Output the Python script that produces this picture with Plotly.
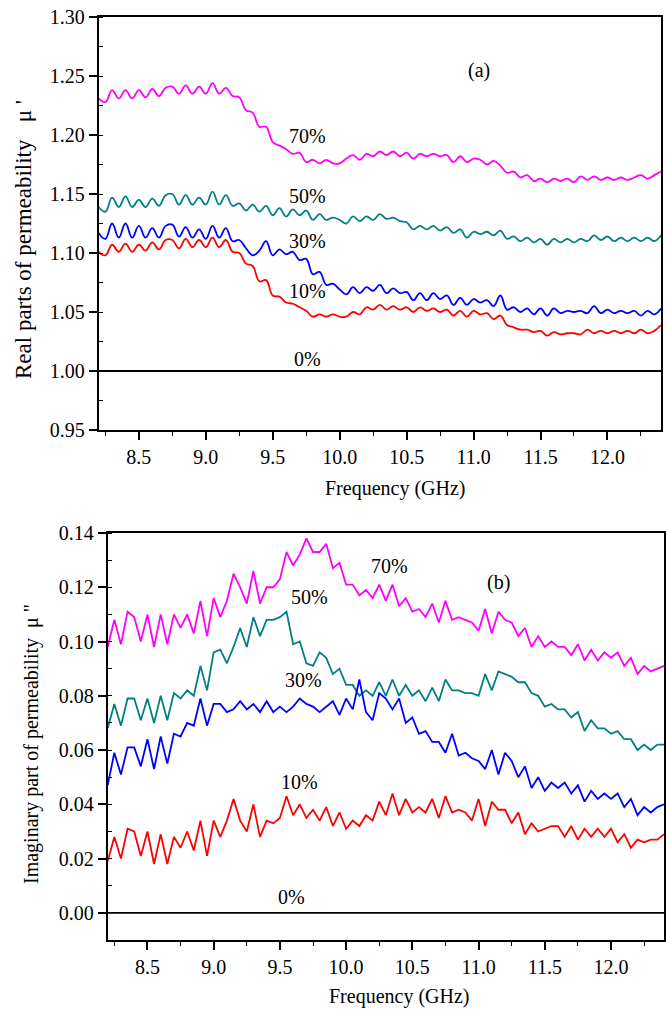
import plotly.graph_objects as go

# Frequency grid (GHz)
FREQ = [8.20, 8.25, 8.30, 8.35, 8.40, 8.45, 8.50, 8.55, 8.60, 8.65,
        8.70, 8.75, 8.80, 8.85, 8.90, 8.95, 9.00, 9.05, 9.10, 9.15,
        9.20, 9.25, 9.30, 9.35, 9.40, 9.45, 9.50, 9.55, 9.60, 9.65,
        9.70, 9.75, 9.80, 9.85, 9.90, 9.95, 10.00, 10.05, 10.10, 10.15,
        10.20, 10.25, 10.30, 10.35, 10.40, 10.45, 10.50, 10.55, 10.60, 10.65,
        10.70, 10.75, 10.80, 10.85, 10.90, 10.95, 11.00, 11.05, 11.10, 11.15,
        11.20, 11.25, 11.30, 11.35, 11.40, 11.45, 11.50, 11.55, 11.60, 11.65,
        11.70, 11.75, 11.80, 11.85, 11.90, 11.95, 12.00, 12.05, 12.10, 12.15,
        12.20, 12.25, 12.30, 12.35, 12.40]

# (a) real part mu'
REAL_70 = [1.231, 1.228, 1.238, 1.231, 1.238, 1.231, 1.238, 1.232, 1.239, 1.233,
           1.240, 1.241, 1.235, 1.242, 1.235, 1.241, 1.235, 1.244, 1.235, 1.240,
           1.233, 1.232, 1.221, 1.219, 1.207, 1.207, 1.194, 1.191, 1.188, 1.184,
           1.185, 1.177, 1.179, 1.176, 1.179, 1.176, 1.176, 1.180, 1.183, 1.179,
           1.184, 1.182, 1.186, 1.183, 1.186, 1.182, 1.185, 1.180, 1.184, 1.182,
           1.184, 1.182, 1.183, 1.177, 1.182, 1.177, 1.180, 1.179, 1.175, 1.178,
           1.174, 1.168, 1.169, 1.164, 1.166, 1.161, 1.163, 1.160, 1.163, 1.161,
           1.163, 1.160, 1.165, 1.162, 1.165, 1.162, 1.164, 1.162, 1.164, 1.162,
           1.164, 1.166, 1.163, 1.166, 1.169]
REAL_50 = [1.139, 1.135, 1.147, 1.139, 1.148, 1.139, 1.145, 1.139, 1.146, 1.140,
           1.149, 1.150, 1.141, 1.149, 1.141, 1.147, 1.141, 1.152, 1.141, 1.149,
           1.140, 1.142, 1.136, 1.141, 1.135, 1.140, 1.132, 1.138, 1.131, 1.137,
           1.132, 1.136, 1.128, 1.133, 1.128, 1.130, 1.128, 1.125, 1.131, 1.127,
           1.131, 1.128, 1.133, 1.129, 1.130, 1.127, 1.126, 1.120, 1.123, 1.120,
           1.123, 1.119, 1.122, 1.117, 1.120, 1.113, 1.118, 1.116, 1.118, 1.115,
           1.119, 1.112, 1.114, 1.110, 1.113, 1.109, 1.112, 1.107, 1.112, 1.109,
           1.112, 1.109, 1.112, 1.110, 1.115, 1.111, 1.114, 1.110, 1.113, 1.110,
           1.113, 1.110, 1.113, 1.110, 1.115]
REAL_30 = [1.117, 1.112, 1.125, 1.113, 1.125, 1.113, 1.123, 1.113, 1.121, 1.113,
           1.123, 1.124, 1.114, 1.122, 1.113, 1.120, 1.112, 1.123, 1.113, 1.121,
           1.110, 1.111, 1.104, 1.098, 1.102, 1.110, 1.098, 1.103, 1.099, 1.101,
           1.094, 1.095, 1.082, 1.084, 1.073, 1.074, 1.069, 1.065, 1.071, 1.066,
           1.071, 1.068, 1.073, 1.066, 1.070, 1.066, 1.067, 1.060, 1.066, 1.060,
           1.066, 1.061, 1.064, 1.056, 1.062, 1.056, 1.061, 1.058, 1.060, 1.055,
           1.064, 1.052, 1.054, 1.050, 1.053, 1.048, 1.053, 1.047, 1.053, 1.049,
           1.051, 1.050, 1.051, 1.049, 1.055, 1.049, 1.052, 1.049, 1.051, 1.049,
           1.051, 1.047, 1.051, 1.048, 1.053]
REAL_10 = [1.101, 1.098, 1.107, 1.101, 1.108, 1.101, 1.107, 1.102, 1.109, 1.103,
           1.111, 1.111, 1.104, 1.112, 1.105, 1.111, 1.105, 1.113, 1.105, 1.111,
           1.101, 1.100, 1.091, 1.089, 1.076, 1.077, 1.064, 1.063, 1.058, 1.057,
           1.054, 1.051, 1.046, 1.048, 1.046, 1.048, 1.046, 1.046, 1.050, 1.048,
           1.054, 1.052, 1.056, 1.052, 1.055, 1.052, 1.054, 1.050, 1.054, 1.051,
           1.053, 1.050, 1.052, 1.047, 1.051, 1.046, 1.051, 1.048, 1.049, 1.044,
           1.047, 1.039, 1.037, 1.035, 1.035, 1.033, 1.034, 1.030, 1.033, 1.031,
           1.032, 1.032, 1.031, 1.035, 1.032, 1.034, 1.032, 1.034, 1.032, 1.034,
           1.032, 1.035, 1.032, 1.034, 1.039]
REAL_0 = 1.00

# (b) imaginary part mu''
IMAG_70 = [0.098, 0.108, 0.099, 0.111, 0.109, 0.100, 0.110, 0.098, 0.110, 0.099,
           0.110, 0.105, 0.110, 0.103, 0.115, 0.102, 0.116, 0.109, 0.115, 0.125,
           0.120, 0.114, 0.126, 0.114, 0.120, 0.120, 0.123, 0.133, 0.128, 0.132,
           0.138, 0.133, 0.133, 0.136, 0.127, 0.129, 0.121, 0.121, 0.117, 0.119,
           0.116, 0.121, 0.115, 0.121, 0.113, 0.116, 0.111, 0.112, 0.109, 0.114,
           0.107, 0.115, 0.108, 0.109, 0.108, 0.107, 0.104, 0.112, 0.103, 0.111,
           0.108, 0.107, 0.102, 0.105, 0.098, 0.102, 0.098, 0.100, 0.098, 0.098,
           0.095, 0.099, 0.093, 0.097, 0.093, 0.096, 0.094, 0.096, 0.091, 0.094,
           0.088, 0.091, 0.089, 0.090, 0.091]
IMAG_50 = [0.068, 0.077, 0.069, 0.079, 0.079, 0.071, 0.079, 0.070, 0.080, 0.071,
           0.081, 0.079, 0.082, 0.080, 0.091, 0.082, 0.096, 0.097, 0.092, 0.098,
           0.105, 0.098, 0.109, 0.102, 0.108, 0.108, 0.109, 0.111, 0.099, 0.100,
           0.092, 0.091, 0.096, 0.094, 0.088, 0.090, 0.084, 0.084, 0.080, 0.082,
           0.080, 0.085, 0.080, 0.086, 0.080, 0.084, 0.080, 0.082, 0.078, 0.083,
           0.078, 0.086, 0.082, 0.082, 0.081, 0.081, 0.080, 0.088, 0.082, 0.089,
           0.088, 0.087, 0.085, 0.085, 0.081, 0.080, 0.076, 0.077, 0.075, 0.075,
           0.072, 0.074, 0.067, 0.071, 0.068, 0.068, 0.066, 0.067, 0.064, 0.064,
           0.060, 0.062, 0.060, 0.062, 0.062]
IMAG_30 = [0.047, 0.059, 0.051, 0.061, 0.061, 0.054, 0.064, 0.053, 0.065, 0.055,
           0.066, 0.065, 0.070, 0.069, 0.079, 0.069, 0.077, 0.077, 0.074, 0.075,
           0.078, 0.075, 0.077, 0.074, 0.078, 0.074, 0.076, 0.074, 0.076, 0.079,
           0.077, 0.076, 0.074, 0.076, 0.078, 0.073, 0.079, 0.075, 0.086, 0.074,
           0.071, 0.081, 0.079, 0.075, 0.079, 0.070, 0.072, 0.066, 0.067, 0.063,
           0.063, 0.059, 0.066, 0.058, 0.059, 0.057, 0.056, 0.053, 0.060, 0.051,
           0.059, 0.056, 0.050, 0.054, 0.046, 0.050, 0.045, 0.048, 0.046, 0.048,
           0.044, 0.047, 0.041, 0.045, 0.042, 0.044, 0.042, 0.044, 0.039, 0.042,
           0.036, 0.039, 0.037, 0.039, 0.040]
IMAG_10 = [0.019, 0.028, 0.020, 0.031, 0.030, 0.021, 0.030, 0.018, 0.029, 0.018,
           0.028, 0.024, 0.030, 0.023, 0.034, 0.021, 0.034, 0.028, 0.034, 0.042,
           0.034, 0.030, 0.040, 0.028, 0.034, 0.033, 0.035, 0.043, 0.036, 0.040,
           0.035, 0.038, 0.034, 0.039, 0.032, 0.037, 0.031, 0.034, 0.032, 0.036,
           0.034, 0.041, 0.036, 0.044, 0.036, 0.042, 0.037, 0.039, 0.037, 0.042,
           0.035, 0.043, 0.037, 0.038, 0.037, 0.034, 0.042, 0.032, 0.041, 0.038,
           0.038, 0.033, 0.037, 0.029, 0.033, 0.030, 0.031, 0.032, 0.032, 0.028,
           0.032, 0.027, 0.031, 0.028, 0.031, 0.028, 0.031, 0.026, 0.029, 0.024,
           0.027, 0.026, 0.027, 0.027, 0.029]
IMAG_0 = 0.00

LABELS = ["70%", "50%", "30%", "10%", "0%"]
COLORS = ["#FF00FF", "#008080", "#0000FF", "#FF0000", "#000000"]

# label anchor positions (data coordinates)
TOP_LABEL_X = [9.76, 9.76, 9.76, 9.76, 9.76]
TOP_LABEL_Y = [1.199, 1.148, 1.110, 1.068, 1.010]
BOT_LABEL_X = [10.33, 9.72, 9.68, 9.65, 9.59]
BOT_LABEL_Y = [0.1277, 0.1164, 0.0858, 0.0483, 0.0057]

FONT = "Liberation Serif"
W, H = 666, 1011

fig = go.Figure()

top_series = [REAL_70, REAL_50, REAL_30, REAL_10, [REAL_0] * len(FREQ)]
bot_series = [IMAG_70, IMAG_50, IMAG_30, IMAG_10, [IMAG_0] * len(FREQ)]

for ser, col, lab in zip(top_series, COLORS, LABELS):
    fig.add_trace(go.Scatter(x=FREQ, y=ser, mode="lines", name=lab,
                             line=dict(color=col, width=1.8, shape="spline", smoothing=1.2),
                             xaxis="x", yaxis="y", showlegend=False))
for ser, col, lab in zip(bot_series, COLORS, LABELS):
    fig.add_trace(go.Scatter(x=FREQ, y=ser, mode="lines", name=lab,
                             line=dict(color=col, width=1.8),
                             xaxis="x2", yaxis="y2", showlegend=False))

def xpx(a, b):
    return [a / W, b / W]

def ypx(top, bottom):
    return [1 - bottom / H, 1 - top / H]

common = dict(showline=True, linecolor="black", linewidth=2, mirror=True,
              showgrid=False, zeroline=False, ticks="outside", ticklen=8,
              tickwidth=1.5, tickcolor="black", automargin=False,
              tickfont=dict(family=FONT, size=20, color="black"))

fig.update_layout(
    width=W, height=H,
    margin=dict(l=0, r=0, t=0, b=0),
    paper_bgcolor="white", plot_bgcolor="white",
    font=dict(family=FONT, size=20, color="black"),
    xaxis=dict(domain=xpx(98.7, 661), range=[8.2, 12.4], anchor="y",
               tick0=8.5, dtick=0.5, tickformat=".1f",
               minor=dict(ticks="outside", ticklen=4, tickwidth=1.2, tickcolor="black",
                          tick0=8.25, dtick=0.25, showgrid=False),
               **common),
    yaxis=dict(domain=ypx(17, 430), range=[0.95, 1.30], anchor="x",
               tick0=0.95, dtick=0.05, tickformat=".2f",
               minor=dict(ticks="inside", ticklen=4, tickwidth=1.2, tickcolor="black",
                          tick0=0.975, dtick=0.025, showgrid=False),
               **common),
    xaxis2=dict(domain=xpx(107.7, 664), range=[8.2, 12.4], anchor="y2",
                tick0=8.5, dtick=0.5, tickformat=".1f",
                minor=dict(ticks="outside", ticklen=4, tickwidth=1.2, tickcolor="black",
                           tick0=8.25, dtick=0.25, showgrid=False),
                **common),
    yaxis2=dict(domain=ypx(533, 940), range=[-0.01, 0.14], anchor="x2",
                tick0=0, dtick=0.02, tickformat=".2f",
                minor=dict(ticks="inside", ticklen=4, tickwidth=1.2, tickcolor="black",
                           tick0=0.01, dtick=0.01, showgrid=False),
                **common),
)

def label(text, x, y, xref, yref, size=20, angle=0):
    return dict(text=text, x=x, y=y, xref=xref, yref=yref, showarrow=False,
                xanchor="center", yanchor="middle", textangle=angle,
                font=dict(family=FONT, size=size, color="black"))

ann = []
for lab, x, y in zip(LABELS, TOP_LABEL_X, TOP_LABEL_Y):
    ann.append(label(lab, x, y, "x", "y"))
ann.append(label("(a)", 11.04, 1.255, "x", "y"))
for lab, x, y in zip(LABELS, BOT_LABEL_X, BOT_LABEL_Y):
    ann.append(label(lab, x, y, "x2", "y2"))
ann.append(label("(b)", 11.15, 0.1216, "x2", "y2"))

# axis titles
ann.append(label("Frequency (GHz)", 395 / W, 1 - 489 / H, "paper", "paper"))
ann.append(label("Frequency (GHz)", 399 / W, 1 - 996 / H, "paper", "paper"))
ann.append(label("Real parts of permeability\u00a0\u00a0\u00a0\u03bc\u00a0'", 24 / W, 1 - 240 / H,
                 "paper", "paper", size=23, angle=-90))
ann.append(label("Imaginary part of permeability\u00a0\u00a0\u03bc\u00a0\"", 31 / W, 1 - 744 / H,
                 "paper", "paper", size=20, angle=-90))
fig.update_layout(annotations=ann)

fig.write_html("out.html")
